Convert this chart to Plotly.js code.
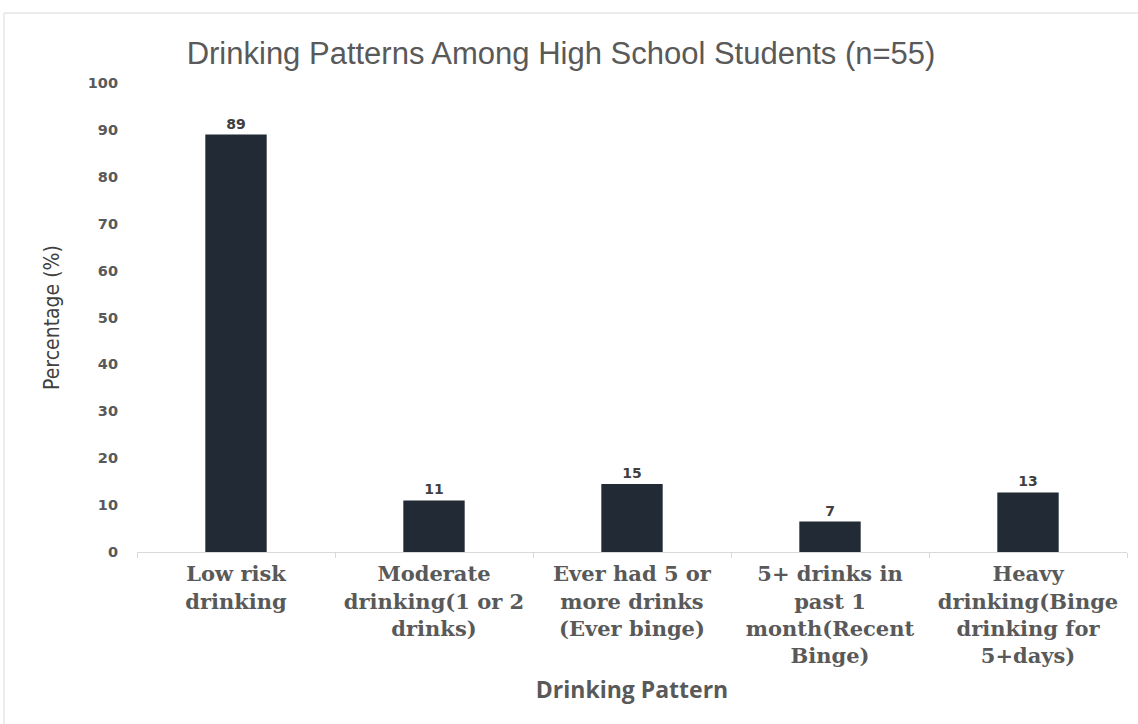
<!DOCTYPE html>
<html>
<head>
<meta charset="utf-8">
<script src="https://cdn.plot.ly/plotly-3.0.1.min.js"></script>
<style>html,body{margin:0;padding:0;background:#fff;}#chart{width:1138px;height:724px;}</style>
</head>
<body>
<div id="chart"></div>
<script>
var categories = [
  "Low risk<br>drinking",
  "Moderate<br>drinking(1 or 2<br>drinks)",
  "Ever had 5 or<br>more drinks<br>(Ever binge)",
  "5+ drinks in<br>past 1<br>month(Recent<br>Binge)",
  "Heavy<br>drinking(Binge<br>drinking for<br>5+days)"
];
var values = [89, 11, 14.5, 6.5, 12.7];
var labels = ["89", "11", "15", "7", "13"];

var L = 137, R = 1127, T = 83, B = 552;
function px(x){ return (x - L) / (R - L); }
function py(y){ return (B - y) / (B - T); }

var trace = {
  type: 'bar',
  x: categories,
  y: values,
  text: labels,
  textposition: 'outside',
  cliponaxis: false,
  textfont: {family: 'DejaVu Sans, sans-serif', size: 14, color: '#404040', weight: 'bold'},
  marker: {color: '#222a35'},
  width: 0.31,
  hoverinfo: 'none'
};

var layout = {
  width: 1138, height: 724,
  margin: {l: L, r: 1138 - R, t: T, b: 724 - B},
  paper_bgcolor: '#ffffff', plot_bgcolor: '#ffffff',
  showlegend: false,
  title: {
    text: 'Drinking Patterns Among High School Students (n=55)',
    font: {family: 'Liberation Sans, Arial, sans-serif', size: 31, color: '#595959'},
    x: 0.493, xanchor: 'center', y: 0.927, yanchor: 'middle'
  },
  xaxis: {
    type: 'category',
    showline: true, linecolor: '#d9d9d9', linewidth: 1,
    ticks: 'outside', tickson: 'boundaries', ticklen: 5, tickcolor: '#d9d9d9',
    ticklabelstandoff: 3,
    tickfont: {family: 'DejaVu Serif, serif', size: 21, color: '#595959', weight: 'bold'},
    showgrid: false, zeroline: false,
    title: {
      text: 'Drinking Pattern',
      font: {family: 'Open Sans, sans-serif', size: 23, color: '#595959', weight: 'bold'},
      standoff: 14
    },
    automargin: false
  },
  yaxis: {
    range: [0, 100], dtick: 10, tick0: 0,
    showline: false, showgrid: false, zeroline: false,
    ticks: '', ticklabelstandoff: 18,
    tickfont: {family: 'DejaVu Sans, sans-serif', size: 14.5, color: '#595959', weight: 'bold'},
    title: {
      text: 'Percentage (%)',
      font: {family: 'Liberation Sans Narrow, DejaVu Sans Condensed, sans-serif', size: 21, color: '#404040'},
      standoff: 22
    },
    automargin: false
  },
  shapes: [
    {type: 'line', xref: 'paper', yref: 'paper', x0: px(4), x1: px(1138), y0: py(13), y1: py(13), line: {color: '#d9d9d9', width: 1}},
    {type: 'line', xref: 'paper', yref: 'paper', x0: px(4), x1: px(4), y0: py(13), y1: py(724), line: {color: '#d9d9d9', width: 1}}
  ]
};

Plotly.newPlot('chart', [trace], layout, {displayModeBar: false, staticPlot: true});
</script>
</body>
</html>
